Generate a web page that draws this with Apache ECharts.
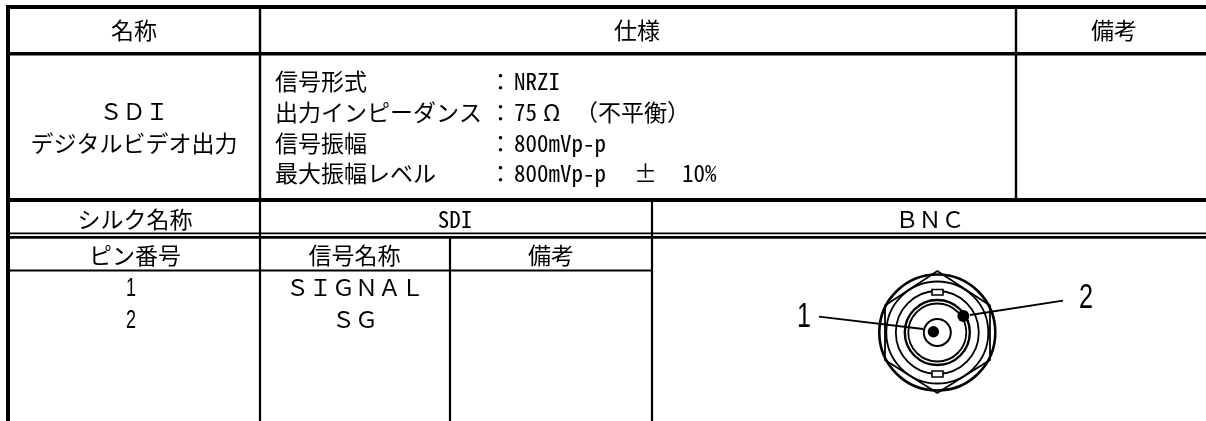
<!DOCTYPE html>
<html>
<head>
<meta charset="utf-8">
<style>
  html, body { margin: 0; padding: 0; background: #fff; }
  #main { width: 1206px; height: 421px; }
</style>
<script src="https://cdn.jsdelivr.net/npm/echarts@6/dist/echarts.min.js"></script>
</head>
<body>
<div id="main"></div>
<script>
// table contents
var headers = ['名称', '仕様', '備考'];
var itemName = ['ＳＤＩ', 'デジタルビデオ出力'];
var specLabels = ['信号形式', '出力インピーダンス', '信号振幅', '最大振幅レベル'];
var specValues = ['NRZI', '75', '800mVp-p', '800mVp-p'];
var specExtras = ['Ω', '（不平衡）', '±', '10%'];
var silkRow = ['シルク名称', 'SDI', 'ＢＮＣ'];
var pinHeaders = ['ピン番号', '信号名称', '備考'];
var pinNumbers = ['1', '2'];
var signalNames = ['ＳＩＧＮＡＬ', 'ＳＧ'];

var FONT = '"Noto Sans Mono CJK JP", "Noto Sans CJK JP", "Liberation Mono", monospace';
var DIGIT_FONT = '"Liberation Sans", sans-serif';

// the table is laid out in a 1206 x 421 coordinate space on hidden value axes
var rows = [30, 219, 255.5];
var specY = [81, 112, 143, 173.5];
var cells = [
    [headers[0], 134, rows[0]], [headers[1], 637, rows[0]], [headers[2], 1114, rows[0]],
    [itemName[0], 134, 111], [itemName[1], 134, 143],
    [silkRow[0], 135, rows[1]], [silkRow[1], 455, rows[1]], [silkRow[2], 930, rows[1]],
    [pinHeaders[0], 135, rows[2]], [pinHeaders[1], 354.5, rows[2]], [pinHeaders[2], 551, rows[2]],
    [signalNames[0], 355, 287], [signalNames[1], 355, 319]
];
var leftTexts = [];
specLabels.forEach(function (v, i) {
    leftTexts.push([v, 275, specY[i]]);
    leftTexts.push(['：', 489, specY[i]]);
    leftTexts.push([specValues[i], 514, specY[i]]);
});
leftTexts.push([specExtras[0], 543, specY[1]]);
leftTexts.push([specExtras[1], 575, specY[1]]);
leftTexts.push([specExtras[2], 634, specY[3]]);
leftTexts.push([specExtras[3], 682, specY[3]]);

// [text, x, y]
var pinCells = [[pinNumbers[0], 131, 289], [pinNumbers[1], 131, 321]];

// [x1, y1, x2, y2, width]
var rules = [
    [6, 7, 1206, 7, 4],
    [6, 53.8, 1206, 53.8, 3.4],
    [6, 200, 1206, 200, 4],
    [6, 233.4, 1206, 233.4, 1.8],
    [6, 237.4, 1206, 237.4, 2.6],
    [6, 270.5, 652, 270.5, 2.2],
    [8, 5, 8, 421, 4],
    [260, 9, 260, 198, 2.4],
    [1016, 9, 1016, 198, 2.4],
    [260, 202, 260, 421, 2.2],
    [652, 202, 652, 421, 2.2],
    [450, 238, 450, 421, 2.2]
];

// connector outline
var cx = 937.3, cy = 332.5;
var rings = [[58, 2.6], [51, 1.8], [41.5, 1.8], [32.5, 2.4], [29, 1.8], [13.5, 2]];
var hexPoints = [[937.3, 271], [990, 305.5], [990, 360], [937.3, 393], [885, 360], [885, 305.5]];
var keys = [[932, 289.5, 11, 5.5], [932, 371, 11, 6]];
var dots = [[933.4, 331.8, 5.7], [963.4, 316, 6]];
var leaders = [[819, 316.7, 923, 329], [1063, 300.7, 970, 315]];
var leaderLabels = [['1', 804, 317], ['2', 1086, 298]];

function px(api, x, y) {
    return api.coord([x, y]);
}

function renderTable(params, api) {
    var children = [];
    rules.forEach(function (r) {
        var a = px(api, r[0], r[1]), b = px(api, r[2], r[3]);
        children.push({
            type: 'line',
            shape: { x1: a[0], y1: a[1], x2: b[0], y2: b[1] },
            style: { stroke: '#000', lineWidth: r[4] }
        });
    });
    cells.forEach(function (c) {
        var p = px(api, c[1], c[2]);
        children.push({
            type: 'text', x: p[0], y: p[1],
            style: { text: c[0], font: '23px ' + FONT, fill: '#000', align: 'center', verticalAlign: 'middle' }
        });
    });
    leftTexts.forEach(function (c) {
        var p = px(api, c[1], c[2]);
        children.push({
            type: 'text', x: p[0], y: p[1],
            style: { text: c[0], font: '23px ' + FONT, fill: '#000', align: 'left', verticalAlign: 'middle' }
        });
    });
    pinCells.forEach(function (c) {
        var p = px(api, c[1], c[2]);
        children.push({
            type: 'text', x: p[0], y: p[1], scaleX: 0.72,
            style: { text: c[0], font: '25px ' + DIGIT_FONT, fill: '#000', align: 'center', verticalAlign: 'middle' }
        });
    });
    return { type: 'group', children: children };
}

function renderConnector(params, api) {
    var children = [];
    var c = px(api, cx, cy);
    children.push({
        type: 'polygon',
        shape: { points: hexPoints.map(function (p) { return px(api, p[0], p[1]); }) },
        style: { fill: 'none', stroke: '#000', lineWidth: 1.8 }
    });
    rings.forEach(function (r) {
        children.push({
            type: 'circle',
            shape: { cx: c[0], cy: c[1], r: r[0] },
            style: { fill: 'none', stroke: '#000', lineWidth: r[1] }
        });
    });
    keys.forEach(function (k) {
        var p = px(api, k[0], k[1]);
        children.push({
            type: 'rect',
            shape: { x: p[0], y: p[1], width: k[2], height: k[3] },
            style: { fill: '#fff', stroke: '#000', lineWidth: 1.6 }
        });
    });
    dots.forEach(function (d) {
        var p = px(api, d[0], d[1]);
        children.push({
            type: 'circle',
            shape: { cx: p[0], cy: p[1], r: d[2] },
            style: { fill: '#000' }
        });
    });
    leaders.forEach(function (l) {
        var a = px(api, l[0], l[1]), b = px(api, l[2], l[3]);
        children.push({
            type: 'line',
            shape: { x1: a[0], y1: a[1], x2: b[0], y2: b[1] },
            style: { stroke: '#000', lineWidth: 1.8 }
        });
    });
    leaderLabels.forEach(function (t) {
        var p = px(api, t[1], t[2]);
        children.push({
            type: 'text', x: p[0], y: p[1], scaleX: 0.72,
            style: { text: t[0], font: '35px ' + DIGIT_FONT, fill: '#000', align: 'center', verticalAlign: 'middle' }
        });
    });
    return { type: 'group', children: children };
}

var myChart = echarts.init(document.getElementById('main'), null, { renderer: 'canvas' });
var option = {
    animation: false,
    backgroundColor: '#fff',
    grid: { left: 0, right: 0, top: 0, bottom: 0 },
    xAxis: { type: 'value', min: 0, max: 1206, show: false },
    yAxis: { type: 'value', min: 0, max: 421, inverse: true, show: false },
    series: [
        { type: 'custom', name: 'table', data: [[0, 0]], clip: false, silent: true, renderItem: renderTable },
        { type: 'custom', name: 'connector', data: [[0, 0]], clip: false, silent: true, renderItem: renderConnector }
    ]
};
myChart.setOption(option);
</script>
</body>
</html>
